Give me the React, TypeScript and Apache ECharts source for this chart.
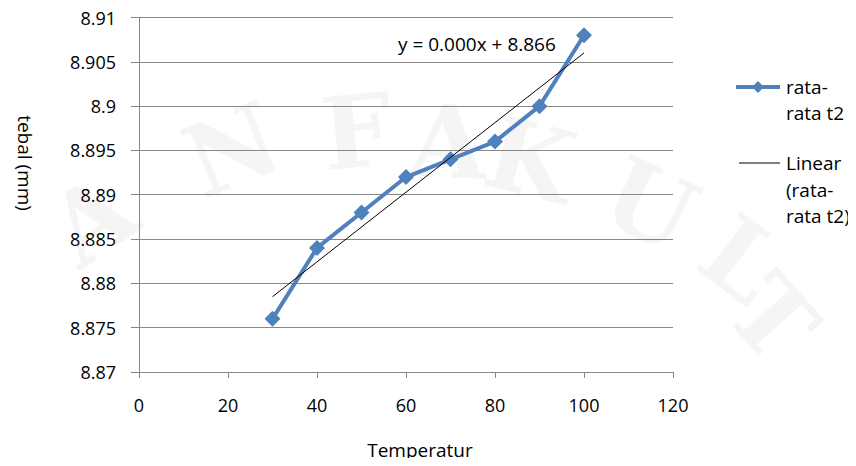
import React, { useEffect, useRef } from "react";
import * as echarts from "echarts";

// Temperature (x) vs. average thickness t2 (y)
const temperatures = [30, 40, 50, 60, 70, 80, 90, 100];
const thicknessT2 = [8.876, 8.884, 8.888, 8.892, 8.894, 8.896, 8.9, 8.908];

// Linear trendline end points
const trendX = [30, 100];
const trendY = [8.8785, 8.906];

const seriesName = "rata-rata t2";
const trendName = "Linear (rata-rata t2)";
const equationText = "y = 0.000x + 8.866";
const xTitle = "Temperatur";
const yTitle = "tebal (mm)";

// Faint background lettering
const watermarkLetters = ["A", "N", "F", "A", "K", "U", "L", "T"];

const FONT = "'Open Sans', sans-serif";
const BLUE = "#4F81BD";
const GRID_GRAY = "#878787";

export default function App() {
  const ref = useRef<HTMLDivElement>(null);

  useEffect(() => {
    if (!ref.current) return;
    const chart = echarts.init(ref.current, undefined, { renderer: "svg" });

    const wmPos = [
      [92, 220, 0.6],
      [232, 150, 0.38],
      [357, 132, 0.1],
      [448, 142, -0.05],
      [530, 160, -0.25],
      [650, 205, -0.45],
      [742, 260, -0.65],
      [772, 318, -0.85],
    ];

    const watermark = watermarkLetters.map((ch, i) => ({
      type: "text",
      x: wmPos[i][0],
      y: wmPos[i][1],
      rotation: wmPos[i][2],
      z: -10,
      silent: true,
      style: {
        text: ch,
        fill: "#f5f5f5",
        font: "bold 100px 'DejaVu Serif', serif",
        align: "center",
        verticalAlign: "middle",
      },
    }));

    const txt = (text: string, x: number, y: number, extra: any = {}) => ({
      type: "text",
      x,
      y,
      style: {
        text,
        fill: "#000",
        font: `19px ${FONT}`,
        align: "left",
        verticalAlign: "middle",
        ...extra,
      },
    });

    chart.setOption({
      animation: false,
      backgroundColor: "#ffffff",
      grid: { left: 139, right: 183, top: 17.5, bottom: 94, containLabel: false },
      xAxis: {
        type: "value",
        min: 0,
        max: 120,
        interval: 20,
        axisLine: { show: true, lineStyle: { color: GRID_GRAY, width: 1 } },
        axisTick: { show: true, length: 6, lineStyle: { color: GRID_GRAY } },
        axisLabel: { color: "#000", fontSize: 18, fontFamily: FONT, margin: 24 },
        splitLine: { show: false },
      },
      yAxis: {
        type: "value",
        min: 8.87,
        max: 8.91,
        interval: 0.005,
        axisLine: { show: true, lineStyle: { color: GRID_GRAY, width: 1 } },
        axisTick: { show: true, length: 8, lineStyle: { color: GRID_GRAY } },
        axisLabel: {
          color: "#000",
          fontSize: 18,
          fontFamily: FONT,
          margin: 23,
          formatter: (v: number) => String(parseFloat(v.toFixed(3))),
        },
        splitLine: { show: true, lineStyle: { color: GRID_GRAY, width: 1 } },
      },
      series: [
        {
          name: seriesName,
          type: "line",
          data: temperatures.map((x, i) => [x, thicknessT2[i]]),
          symbol: "diamond",
          symbolSize: 16,
          lineStyle: { color: BLUE, width: 4 },
          itemStyle: { color: BLUE },
          z: 3,
        },
        {
          name: trendName,
          type: "line",
          data: trendX.map((x, i) => [x, trendY[i]]),
          symbol: "none",
          lineStyle: { color: "#000", width: 1 },
          z: 4,
        },
      ],
      graphic: [
        ...watermark,
        txt(equationText, 398, 44),
        txt(xTitle, 420, 450, { align: "center" }),
        {
          type: "text",
          x: 25,
          y: 163,
          rotation: -Math.PI / 2,
          style: {
            text: yTitle,
            fill: "#000",
            font: `19px ${FONT}`,
            align: "center",
            verticalAlign: "middle",
          },
        },
        // legend: data series
        {
          type: "line",
          shape: { x1: 736, y1: 87, x2: 780, y2: 87 },
          style: { stroke: BLUE, lineWidth: 4 },
        },
        {
          type: "polygon",
          shape: { points: [[758, 81], [764, 87], [758, 93], [752, 87]] },
          style: { fill: BLUE },
        },
        txt("rata-", 786, 87),
        txt("rata t2", 786, 113),
        // legend: trendline
        {
          type: "line",
          shape: { x1: 739, y1: 163, x2: 780, y2: 163 },
          style: { stroke: "#000", lineWidth: 1 },
        },
        txt("Linear", 786, 163),
        txt("(rata-", 786, 190),
        txt("rata t2)", 786, 216),
      ],
    });

    return () => chart.dispose();
  }, []);

  return <div ref={ref} style={{ width: 856, height: 466, margin: -8 }} />;
}
